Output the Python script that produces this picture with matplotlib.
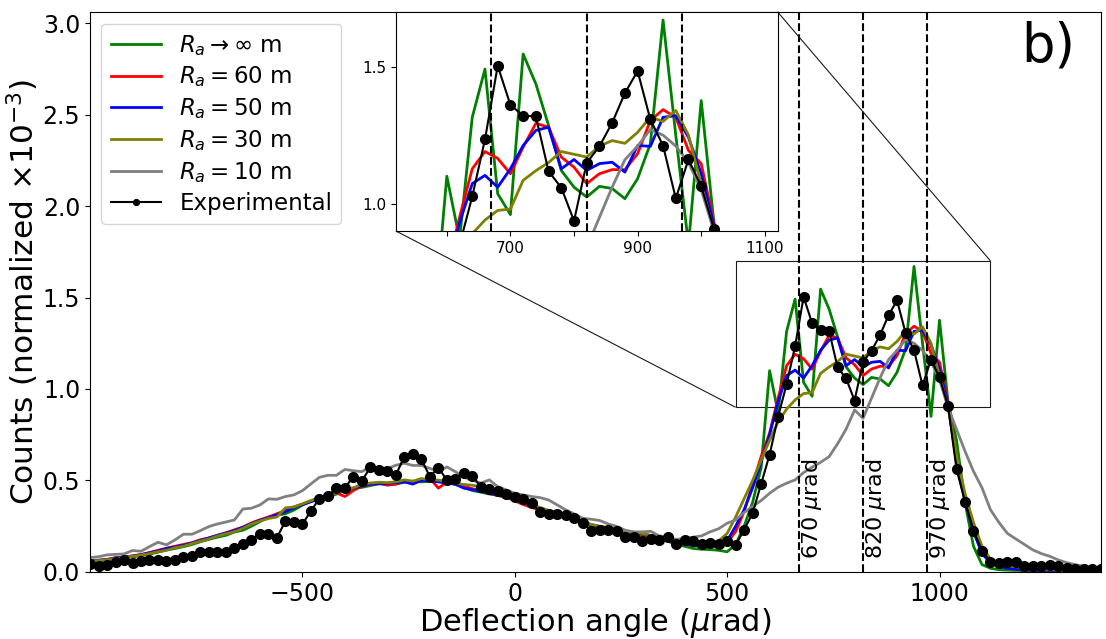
import numpy as np
import matplotlib
matplotlib.use('Agg')
import matplotlib.pyplot as plt
from mpl_toolkits.axes_grid1.inset_locator import mark_inset

# deflection angle bins (urad), 20 urad wide
angle = np.arange(-1000, 1400, 20)

# simulated counts (normalized x1e-3)
ra_inf = [0.058, 0.060, 0.063, 0.074, 0.079, 0.082, 0.090, 0.097, 0.108, 0.120,
          0.128, 0.138, 0.150, 0.165, 0.178, 0.190, 0.200, 0.218, 0.228, 0.250,
          0.275, 0.298, 0.310, 0.318, 0.338, 0.365, 0.385, 0.398, 0.410, 0.425,
          0.445, 0.455, 0.462, 0.472, 0.482, 0.478, 0.480, 0.490, 0.496, 0.492,
          0.495, 0.497, 0.488, 0.478, 0.462, 0.445, 0.436, 0.426, 0.418, 0.408,
          0.392, 0.378, 0.362, 0.345, 0.330, 0.318, 0.300, 0.285, 0.270, 0.252,
          0.244, 0.236, 0.228, 0.215, 0.205, 0.200, 0.190, 0.180, 0.168, 0.150,
          0.140, 0.128, 0.124, 0.122, 0.118, 0.110, 0.150, 0.250, 0.380, 0.570,
          1.100, 0.870, 1.315, 1.491, 1.036, 0.960, 1.546, 1.437, 1.285, 1.121,
          1.060, 1.024, 1.063, 1.055, 1.018, 1.091, 1.218, 1.670, 1.250, 0.850,
          1.376, 0.930, 0.720, 0.380, 0.140, 0.040, 0.020, 0.012, 0.010, 0.008,
          0.007, 0.006, 0.006, 0.005, 0.005, 0.004, 0.004, 0.004, 0.003, 0.003]

ra_60 = [0.060, 0.063, 0.068, 0.078, 0.082, 0.088, 0.095, 0.106, 0.118, 0.130,
         0.140, 0.150, 0.160, 0.176, 0.185, 0.200, 0.214, 0.230, 0.245, 0.268,
         0.285, 0.300, 0.318, 0.335, 0.355, 0.370, 0.388, 0.404, 0.420, 0.432,
         0.412, 0.445, 0.470, 0.478, 0.485, 0.474, 0.480, 0.500, 0.488, 0.500,
         0.512, 0.458, 0.490, 0.486, 0.470, 0.455, 0.442, 0.430, 0.418, 0.410,
         0.388, 0.368, 0.352, 0.338, 0.322, 0.310, 0.296, 0.288, 0.272, 0.254,
         0.246, 0.240, 0.228, 0.218, 0.212, 0.205, 0.195, 0.186, 0.170, 0.158,
         0.150, 0.145, 0.140, 0.140, 0.142, 0.160, 0.220, 0.330, 0.480, 0.630,
         0.760, 0.950, 1.127, 1.190, 1.165, 1.109, 1.206, 1.293, 1.279, 1.170,
         1.133, 1.073, 1.109, 1.124, 1.124, 1.182, 1.303, 1.343, 1.315, 1.194,
         1.146, 0.930, 0.620, 0.400, 0.230, 0.110, 0.050, 0.030, 0.020, 0.015,
         0.012, 0.010, 0.009, 0.008, 0.007, 0.006, 0.006, 0.005, 0.005, 0.004]

ra_50 = [0.062, 0.064, 0.068, 0.076, 0.081, 0.086, 0.094, 0.104, 0.114, 0.128,
         0.136, 0.146, 0.158, 0.172, 0.186, 0.200, 0.212, 0.226, 0.244, 0.264,
         0.282, 0.296, 0.312, 0.330, 0.350, 0.368, 0.384, 0.402, 0.418, 0.430,
         0.445, 0.458, 0.470, 0.480, 0.482, 0.484, 0.488, 0.492, 0.480, 0.500,
         0.498, 0.492, 0.485, 0.480, 0.458, 0.450, 0.440, 0.430, 0.421, 0.412,
         0.395, 0.378, 0.360, 0.345, 0.333, 0.318, 0.304, 0.292, 0.276, 0.258,
         0.248, 0.240, 0.230, 0.221, 0.214, 0.209, 0.198, 0.190, 0.175, 0.160,
         0.152, 0.146, 0.142, 0.140, 0.142, 0.170, 0.250, 0.340, 0.460, 0.600,
         0.750, 0.930, 1.073, 1.103, 1.060, 1.127, 1.212, 1.267, 1.279, 1.127,
         1.161, 1.121, 1.146, 1.151, 1.115, 1.212, 1.209, 1.315, 1.321, 1.242,
         1.109, 0.920, 0.600, 0.390, 0.220, 0.100, 0.050, 0.030, 0.020, 0.015,
         0.012, 0.010, 0.009, 0.008, 0.007, 0.006, 0.006, 0.005, 0.005, 0.004]

ra_30 = [0.060, 0.062, 0.066, 0.073, 0.080, 0.085, 0.092, 0.100, 0.110, 0.118,
         0.132, 0.140, 0.155, 0.168, 0.180, 0.196, 0.208, 0.220, 0.238, 0.262,
         0.278, 0.292, 0.300, 0.350, 0.355, 0.372, 0.390, 0.405, 0.415, 0.430,
         0.445, 0.460, 0.478, 0.486, 0.490, 0.488, 0.492, 0.503, 0.496, 0.510,
         0.505, 0.502, 0.495, 0.486, 0.478, 0.474, 0.464, 0.450, 0.436, 0.425,
         0.404, 0.382, 0.368, 0.352, 0.336, 0.320, 0.304, 0.290, 0.278, 0.260,
         0.250, 0.242, 0.232, 0.222, 0.216, 0.210, 0.200, 0.192, 0.178, 0.162,
         0.156, 0.152, 0.152, 0.160, 0.170, 0.210, 0.300, 0.400, 0.500, 0.610,
         0.720, 0.820, 0.890, 0.940, 0.975, 0.980, 1.085, 1.120, 1.150, 1.190,
         1.180, 1.170, 1.210, 1.230, 1.220, 1.260, 1.316, 1.300, 1.340, 1.250,
         1.070, 0.900, 0.640, 0.430, 0.270, 0.140, 0.070, 0.045, 0.035, 0.028,
         0.022, 0.018, 0.015, 0.012, 0.010, 0.009, 0.008, 0.007, 0.006, 0.005]

ra_10 = [0.078, 0.083, 0.093, 0.096, 0.098, 0.117, 0.113, 0.138, 0.162, 0.148,
         0.175, 0.206, 0.206, 0.226, 0.248, 0.262, 0.273, 0.284, 0.344, 0.348,
         0.366, 0.399, 0.397, 0.412, 0.421, 0.444, 0.481, 0.517, 0.528, 0.528,
         0.560, 0.553, 0.548, 0.575, 0.566, 0.564, 0.583, 0.594, 0.582, 0.582,
         0.566, 0.548, 0.574, 0.548, 0.517, 0.503, 0.485, 0.503, 0.466, 0.448,
         0.430, 0.421, 0.412, 0.406, 0.393, 0.366, 0.339, 0.317, 0.293, 0.288,
         0.281, 0.262, 0.249, 0.228, 0.219, 0.219, 0.222, 0.197, 0.190, 0.178,
         0.182, 0.190, 0.197, 0.219, 0.236, 0.266, 0.284, 0.325, 0.357, 0.390,
         0.430, 0.463, 0.485, 0.503, 0.543, 0.572, 0.599, 0.630, 0.700, 0.780,
         0.885, 0.840, 0.950, 1.060, 1.160, 1.210, 1.270, 1.250, 1.210, 1.150,
         1.050, 0.900, 0.780, 0.660, 0.550, 0.460, 0.340, 0.270, 0.210, 0.180,
         0.150, 0.120, 0.100, 0.085, 0.065, 0.050, 0.040, 0.030, 0.025, 0.020]

experimental = [0.042, 0.034, 0.038, 0.053, 0.064, 0.047, 0.058, 0.064, 0.066, 0.058,
                0.064, 0.084, 0.089, 0.107, 0.107, 0.107, 0.109, 0.128, 0.151, 0.175,
                0.208, 0.206, 0.188, 0.277, 0.273, 0.261, 0.333, 0.401, 0.417, 0.457,
                0.459, 0.521, 0.497, 0.572, 0.556, 0.552, 0.530, 0.630, 0.643, 0.616,
                0.521, 0.570, 0.503, 0.506, 0.543, 0.525, 0.464, 0.455, 0.444, 0.428,
                0.408, 0.401, 0.377, 0.328, 0.317, 0.317, 0.311, 0.297, 0.270, 0.226,
                0.231, 0.230, 0.224, 0.191, 0.193, 0.171, 0.178, 0.175, 0.193, 0.153,
                0.175, 0.168, 0.155, 0.157, 0.152, 0.168, 0.147, 0.230, 0.321, 0.481,
                0.641, 0.849, 1.026, 1.234, 1.503, 1.360, 1.321, 1.318, 1.118, 1.058,
                0.937, 1.149, 1.209, 1.295, 1.403, 1.484, 1.307, 1.212, 1.019, 1.161,
                1.063, 0.909, 0.562, 0.384, 0.225, 0.117, 0.056, 0.047, 0.053, 0.056,
                0.033, 0.034, 0.031, 0.036, 0.035, 0.024, 0.018, 0.018, 0.018, 0.018]

series = [
    (ra_inf, 'green', r'$R_a\rightarrow\infty$ m'),
    (ra_60, 'red', r'$R_a=60$ m'),
    (ra_50, 'blue', r'$R_a=50$ m'),
    (ra_30, 'olive', r'$R_a=30$ m'),
    (ra_10, 'gray', r'$R_a=10$ m'),
]

channels = [670, 820, 970]


def draw(ax, label=True):
    for vals, col, lab in series:
        ax.plot(angle, vals, color=col, lw=2, label=lab if label else None)
    ax.plot(angle, experimental, 'k-o', lw=1.5, ms=7,
            label='Experimental' if label else None)
    for c in channels:
        ax.axvline(c, color='k', ls='--', lw=1.5)


fig = plt.figure(figsize=(11.06, 6.39), dpi=100)
ax = fig.add_axes([0.0814, 0.105, 0.914, 0.876])
draw(ax)
for c in channels:
    ax.text(c + 2, 0.07, f'{c} $\\mu$rad', rotation=90, ha='left', va='bottom',
            fontsize=16)

ax.set_xlim(-1000, 1380)
ax.set_ylim(0, 3.06)
ax.set_xticks([-500, 0, 500, 1000])
ax.set_yticks([0, 0.5, 1.0, 1.5, 2.0, 2.5, 3.0])
ax.tick_params(labelsize=17)
ax.set_xlabel(r'Deflection angle ($\mu$rad)', fontsize=22, labelpad=0)
ax.set_ylabel(r'Counts (normalized $\times10^{-3}$)', fontsize=22.5, labelpad=1)
ax.legend(loc='upper left', fontsize=16.5, markerscale=0.6, labelspacing=0.3,
          handlelength=2.2)
ax.text(0.975, 0.985, 'b)', transform=ax.transAxes, ha='right', va='top',
        fontsize=38)

# zoomed inset of the channeling peaks
axins = fig.add_axes([0.358, 0.6385, 0.345, 0.343])
draw(axins, label=False)
axins.set_xlim(520, 1120)
axins.set_ylim(0.9, 1.7)
axins.set_xticks([600, 700, 800, 900, 1000, 1100])
axins.set_xticklabels(['', '700', '', '900', '', '1100'])
axins.set_yticks([1.0, 1.5])
axins.tick_params(labelsize=11)
mark_inset(ax, axins, loc1=1, loc2=3, fc='none', ec='0.1', lw=0.8)

fig.savefig('out.png', dpi=100)
